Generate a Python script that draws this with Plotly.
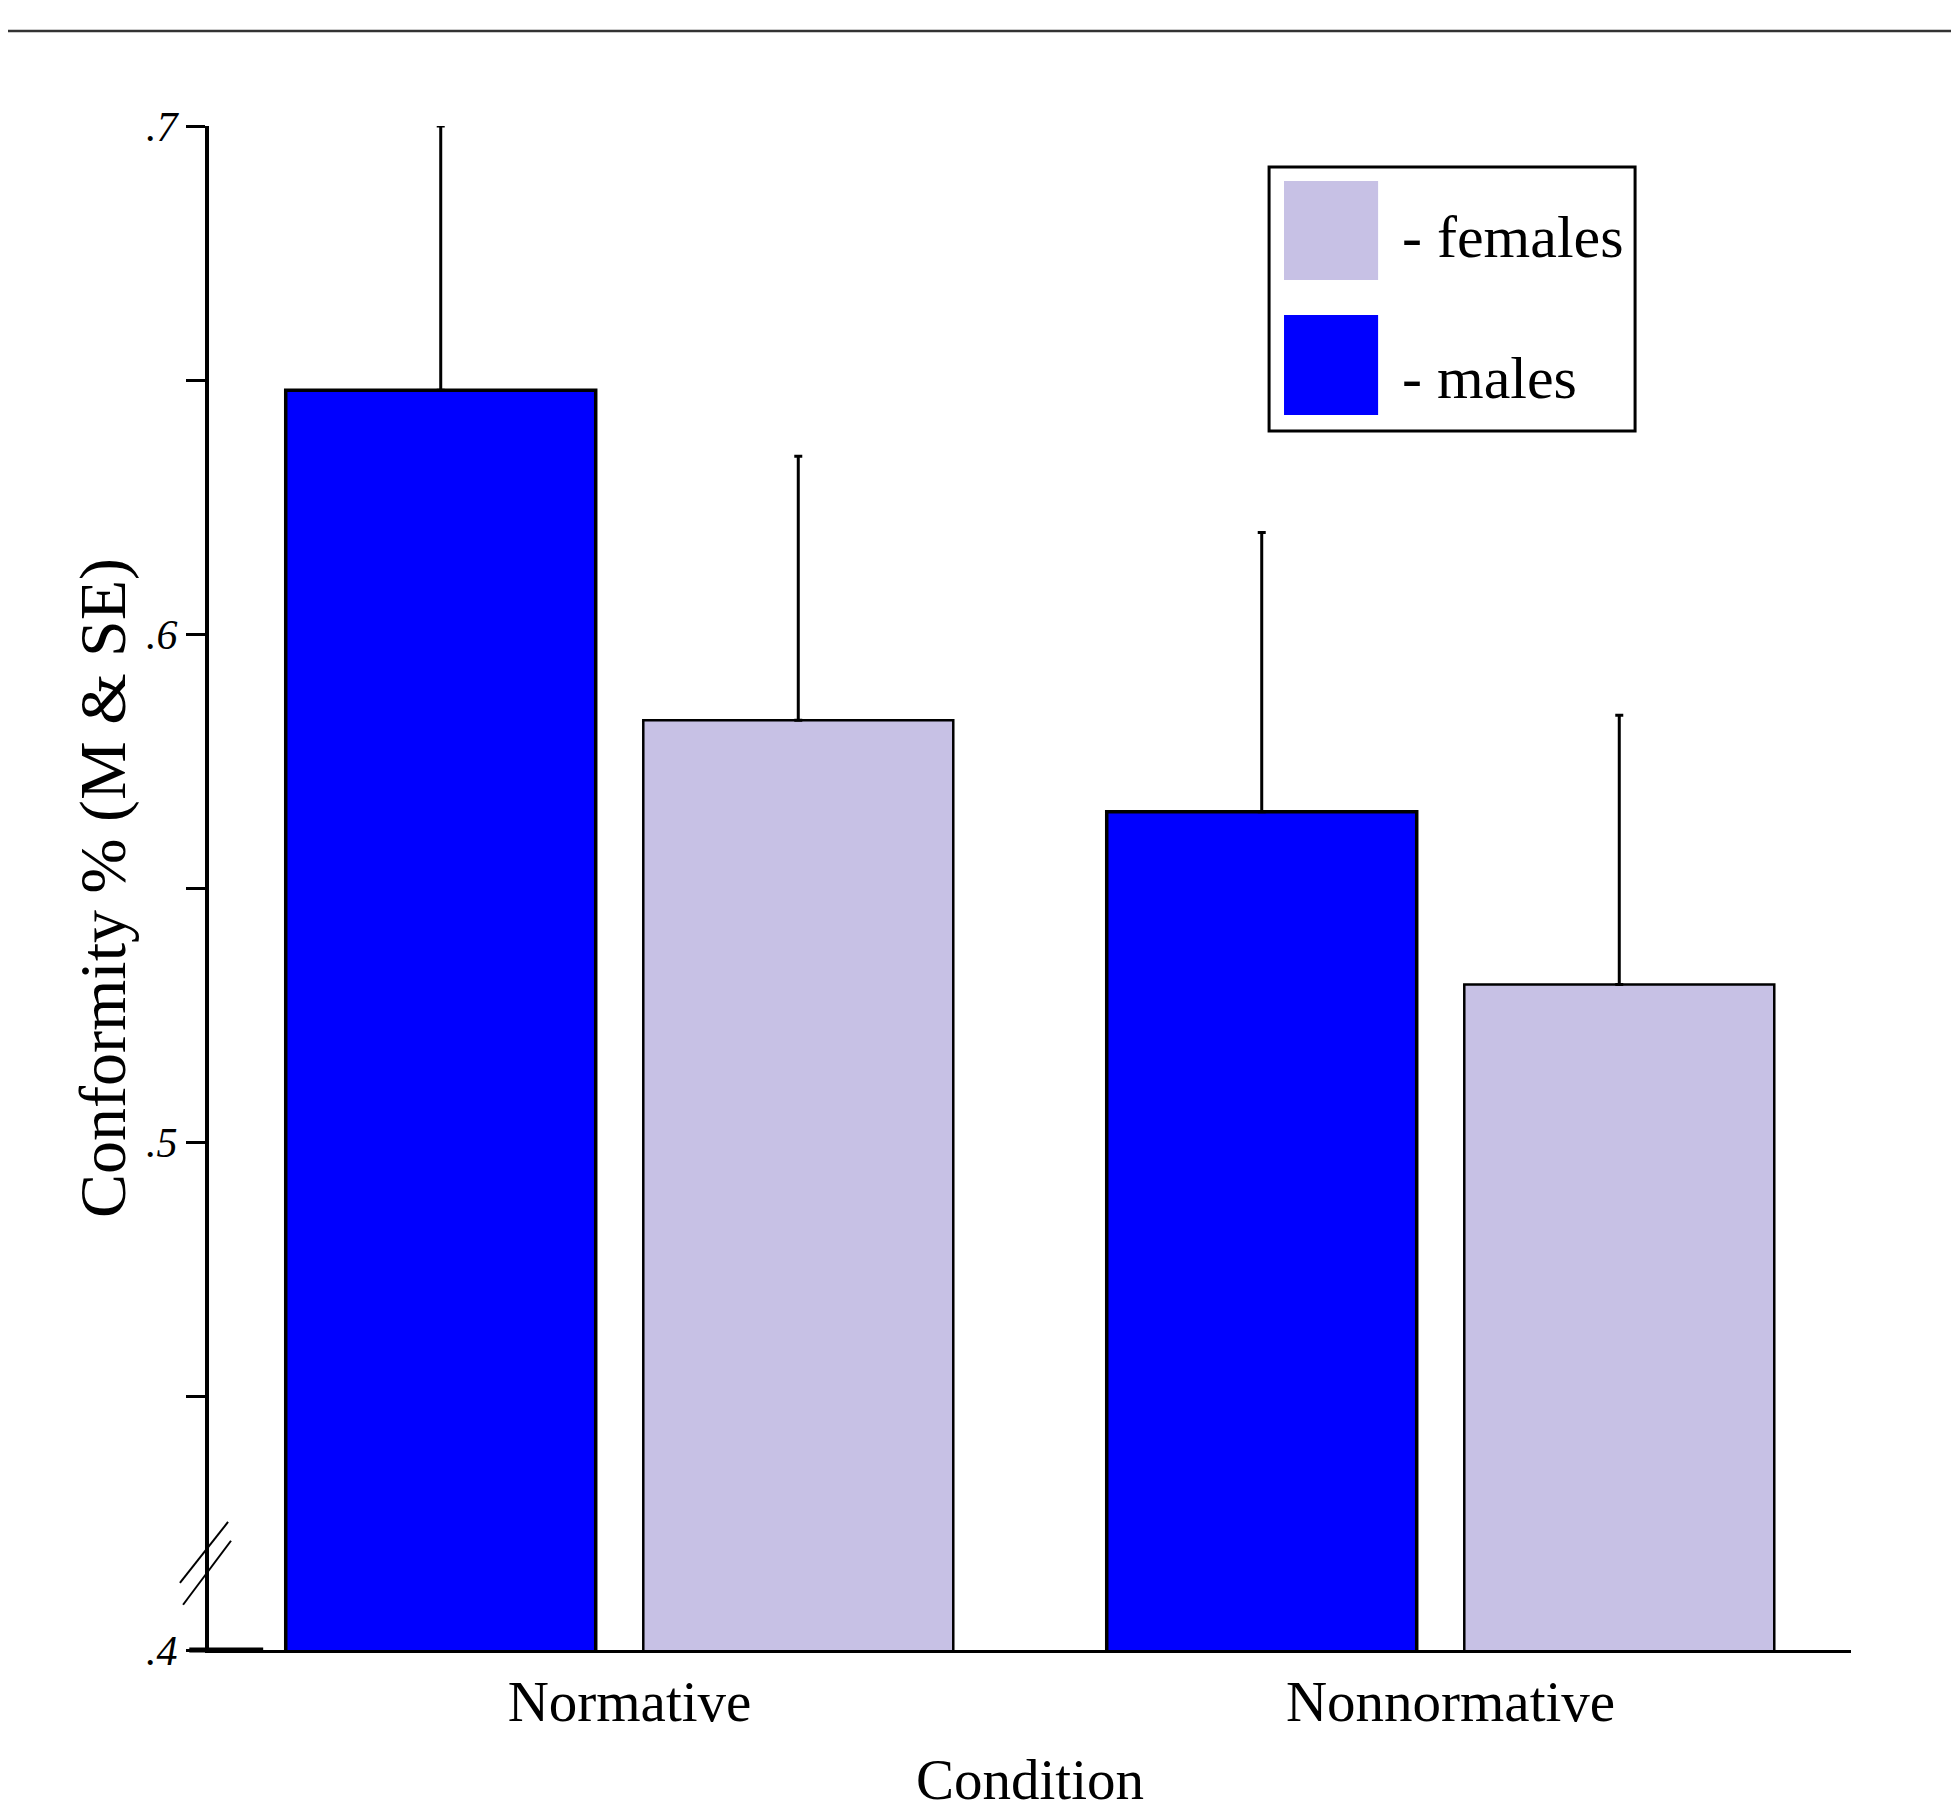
import plotly.graph_objects as go

# ---- data ----
conditions = ["Normative", "Nonnormative"]
males = [0.648, 0.565]
males_se = [0.052, 0.055]
females = [0.583, 0.531]
females_se = [0.052, 0.053]
tick_vals = [0.40, 0.45, 0.50, 0.55, 0.60, 0.65, 0.70]
tick_text = [".4", "", ".5", "", ".6", "", ".7"]

MALE_COLOR = "#0000FF"
FEMALE_COLOR = "#C7C1E5"
FONT = "Liberation Serif, Times New Roman, serif"

fig = go.Figure()
fig.add_trace(go.Bar(
    x=conditions, y=males, name="males",
    marker=dict(color=MALE_COLOR, line=dict(color="black", width=3.5)),
    error_y=dict(type="data", array=males_se, arrayminus=[0] * len(males_se),
                 symmetric=False, color="black", thickness=3, width=4),
))
fig.add_trace(go.Bar(
    x=conditions, y=females, name="females",
    marker=dict(color=FEMALE_COLOR, line=dict(color="black", width=2.5)),
    error_y=dict(type="data", array=females_se, arrayminus=[0] * len(females_se),
                 symmetric=False, color="black", thickness=3, width=4),
))

shapes = []
# top separator line
shapes.append(dict(type="line", xref="paper", yref="paper", x0=-0.2, x1=1.2,
                   y0=1.0623, y1=1.0623, line=dict(color="#333333", width=2.5)))
# axis break marks
shapes.append(dict(type="line", xref="paper", yref="paper", x0=-0.0177, y0=0.044,
                   x1=0.0116, y1=0.084, line=dict(color="black", width=2)))
shapes.append(dict(type="line", xref="paper", yref="paper", x0=-0.0158, y0=0.0297,
                   x1=0.0134, y1=0.0717, line=dict(color="black", width=2)))
# heavy base tick at the axis origin
shapes.append(dict(type="line", xref="paper", yref="paper", x0=-0.012, y0=0.0,
                   x1=0.033, y1=0.0, line=dict(color="black", width=5)))
# legend box
shapes.append(dict(type="rect", xref="paper", yref="paper", x0=0.6456, x1=0.8685,
                   y0=0.7999, y1=0.9731, line=dict(color="black", width=3),
                   fillcolor="white"))
shapes.append(dict(type="rect", xref="paper", yref="paper", x0=0.6547, x1=0.7120,
                   y0=0.8990, y1=0.9639, line=dict(width=0), fillcolor=FEMALE_COLOR))
shapes.append(dict(type="rect", xref="paper", yref="paper", x0=0.6547, x1=0.7120,
                   y0=0.8104, y1=0.8760, line=dict(width=0), fillcolor=MALE_COLOR))

annotations = [
    dict(text="- females", xref="paper", yref="paper", x=0.7253, y=0.9272,
         xanchor="left", yanchor="middle", showarrow=False,
         font=dict(family=FONT, size=60, color="black")),
    dict(text="- males", xref="paper", yref="paper", x=0.7253, y=0.8346,
         xanchor="left", yanchor="middle", showarrow=False,
         font=dict(family=FONT, size=60, color="black")),
]

fig.update_layout(
    width=1951, height=1803,
    margin=dict(l=201, r=108, t=118, b=161),
    paper_bgcolor="white", plot_bgcolor="white",
    barmode="group", bargap=0.129, bargroupgap=0.133,
    showlegend=False,
    shapes=shapes, annotations=annotations,
    font=dict(family=FONT, color="black"),
)
fig.update_xaxes(
    range=[-0.5, 1.5], showline=True, linecolor="black", linewidth=3,
    ticks="", showgrid=False, zeroline=False, automargin=False,
    tickfont=dict(family=FONT, size=57, color="black"),
    ticklabelshift=10,
    title=dict(text="Condition", font=dict(family=FONT, size=57, color="black"),
               standoff=37),
)
fig.update_yaxes(
    range=[0.4, 0.7], showline=True, linecolor="black", linewidth=4,
    ticks="outside", ticklen=19, tickwidth=2.5, tickcolor="black",
    tickvals=tick_vals, ticktext=tick_text,
    showgrid=False, zeroline=False, automargin=False,
    tickfont=dict(family=FONT, size=42, color="black", style="italic"),
    title=dict(text="Conformity % (M & SE)",
               font=dict(family=FONT, size=66, color="black"), standoff=0),
)

fig.write_html("out.html")
